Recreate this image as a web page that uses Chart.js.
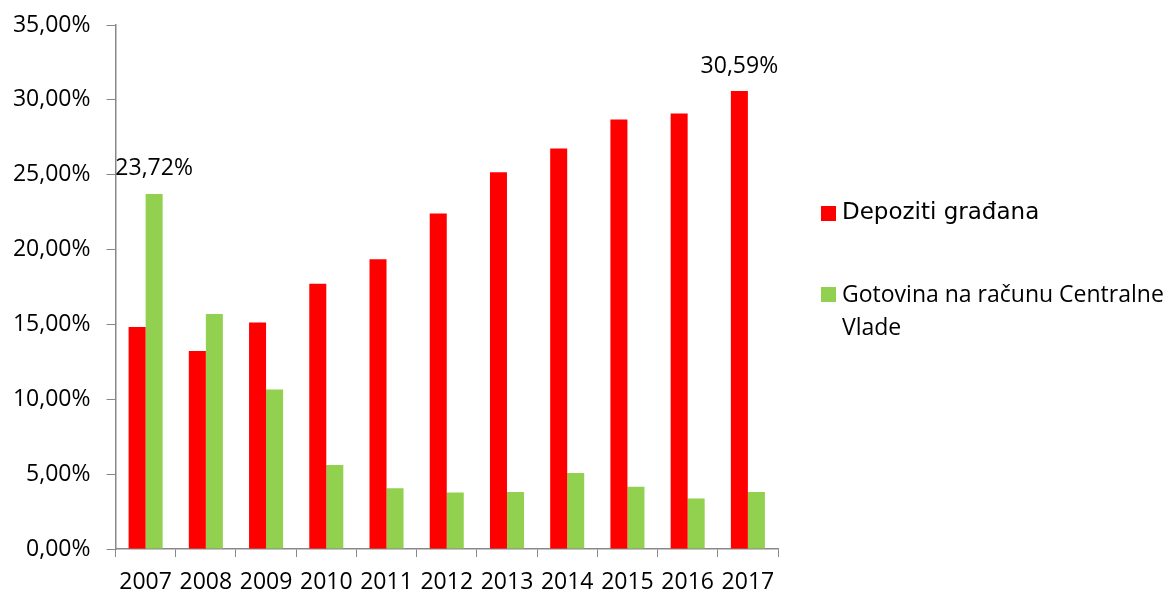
<!DOCTYPE html>
<html>
<head>
<meta charset="utf-8">
<script src="https://cdn.jsdelivr.net/npm/chart.js@4.4.0/dist/chart.umd.min.js"></script>
<style>
  html, body { margin: 0; padding: 0; background: #fff; }
  #wrap { position: relative; width: 1169px; height: 594px; }
  #c { position: absolute; left: 0; top: 0; }
  .lg-box { position: absolute; width: 15px; height: 15px; }
  .lg-text { position: absolute; color: #000; white-space: nowrap; }
</style>
</head>
<body>
<div id="wrap">
  <canvas id="c" width="1169" height="594"></canvas>
</div>
<script>
const categories = ['2007','2008','2009','2010','2011','2012','2013','2014','2015','2016','2017'];
const depozitiGradjana = [14.82, 13.22, 15.13, 17.71, 19.36, 22.41, 25.17, 26.75, 28.68, 29.09, 30.59];
const gotovinaCentralneVlade = [23.72, 15.69, 10.66, 5.61, 4.05, 3.78, 3.80, 5.07, 4.16, 3.38, 3.80];
const seriesNames = ['Depoziti građana', 'Gotovina na računu Centralne Vlade'];
const seriesColors = ['#FF0000', '#92D050'];
// which points carry a value label: [datasetIndex, pointIndex]
const labelledPoints = [[0, 10], [1, 0]];
const yTicks = { min: 0, max: 35, step: 5 };

const fmt = v => v.toFixed(2).replace('.', ',') + '%';

const valueLabels = {
  id: 'valueLabels',
  afterDatasetsDraw(chart) {
    const ctx = chart.ctx;
    ctx.save();
    ctx.font = '23px "Open Sans"';
    ctx.fillStyle = '#000';
    ctx.textAlign = 'center';
    ctx.textBaseline = 'alphabetic';
    labelledPoints.forEach(([d, i]) => {
      const el = chart.getDatasetMeta(d).data[i];
      const v = chart.data.datasets[d].data[i];
      ctx.fillText(fmt(v), el.x, el.y - 18.5);
    });
    ctx.restore();
  }
};

const chart = new Chart(document.getElementById('c'), {
  type: 'bar',
  data: {
    labels: categories,
    datasets: [
      { label: seriesNames[0], data: depozitiGradjana, backgroundColor: seriesColors[0] },
      { label: seriesNames[1], data: gotovinaCentralneVlade, backgroundColor: seriesColors[1] }
    ]
  },
  options: {
    responsive: false,
    animation: false,
    devicePixelRatio: 1,
    layout: { padding: { top: 25, right: 391, left: 0, bottom: 0 } },
    datasets: { bar: { categoryPercentage: 0.565, barPercentage: 1.0 } },
    plugins: { legend: { display: false }, tooltip: { enabled: false } },
    scales: {
      x: {
        grid: { display: true, drawOnChartArea: false, drawTicks: true, tickLength: 8, color: '#888', offset: true },
        border: { display: true, color: '#888', width: 1.5 },
        ticks: { color: '#000', font: { family: 'Open Sans', size: 23 }, padding: 12, maxRotation: 0, autoSkip: false },
        afterFit(scale) { scale.height = 45; scale.paddingLeft = 0; scale.paddingRight = 0; }
      },
      y: {
        min: yTicks.min, max: yTicks.max,
        grid: { display: true, drawOnChartArea: false, drawTicks: true, tickLength: 9, color: '#888' },
        border: { display: true, color: '#888', width: 1.5 },
        ticks: { stepSize: yTicks.step, color: '#000', font: { family: 'Open Sans', size: 23 }, padding: 16, callback: v => fmt(v) },
        afterFit(scale) { scale.width = 115.5; scale.paddingTop = 0; scale.paddingBottom = 0; }
      }
    }
  },
  plugins: [valueLabels]
});

// HTML legend built from the datasets
const wrap = document.getElementById('wrap');
const legendSpec = [
  { boxTop: 206, textTop: 198, family: '"DejaVu Sans", sans-serif', size: '23px', lh: 'normal' },
  { boxTop: 287, textTop: 277, family: '"Open Sans", sans-serif', size: '23px', lh: '33px' }
];
chart.data.datasets.forEach((ds, k) => {
  const s = legendSpec[k];
  const box = document.createElement('div');
  box.className = 'lg-box';
  box.style.left = '821px';
  box.style.top = s.boxTop + 'px';
  box.style.background = ds.backgroundColor;
  wrap.appendChild(box);
  const t = document.createElement('div');
  t.className = 'lg-text';
  t.style.left = '842px';
  t.style.top = s.textTop + 'px';
  t.style.fontFamily = s.family;
  t.style.fontSize = s.size;
  t.style.lineHeight = s.lh;
  if (k === 1) {
    const words = ds.label.split(' ');
    t.innerHTML = words.slice(0, 4).join(' ') + '<br>' + words.slice(4).join(' ');
  } else {
    t.textContent = ds.label;
  }
  wrap.appendChild(t);
});
</script>
</body>
</html>
